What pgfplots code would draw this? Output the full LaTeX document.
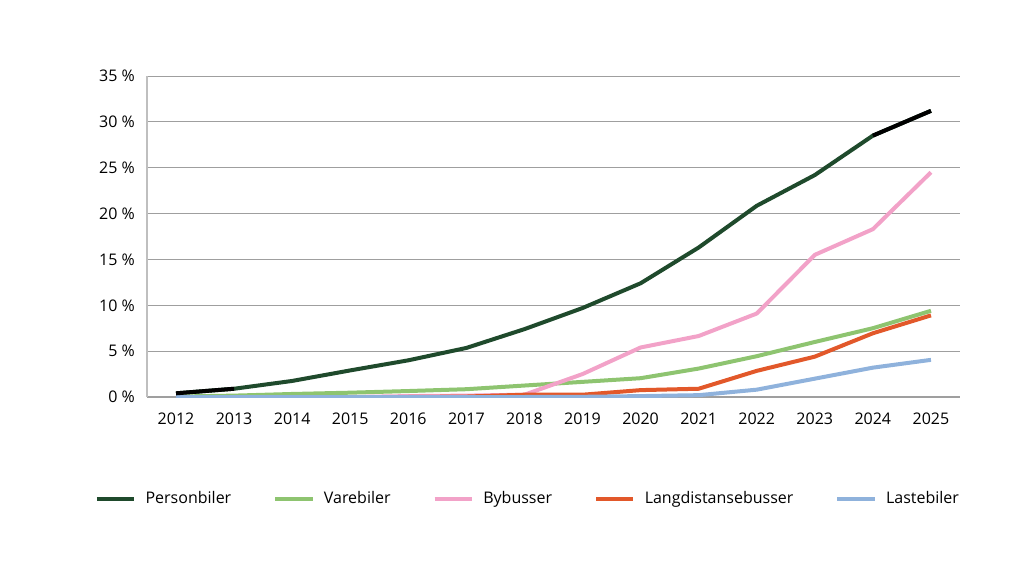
\documentclass[border=0pt]{standalone}
\usepackage{fontspec}
\setmainfont{Open Sans}
\usepackage{pgfplots}
\pgfplotsset{compat=1.18}

\definecolor{cPerson}{HTML}{1F4A2C}
\definecolor{cVare}{HTML}{8EC470}
\definecolor{cBy}{HTML}{F2A2C8}
\definecolor{cLang}{HTML}{E2582A}
\definecolor{cLast}{HTML}{8FB2DC}

\begin{document}
\fontsize{12}{14}\selectfont
\begin{tikzpicture}
% page frame: 1 px of the reference = 0.75pt
\path[use as bounding box] (-110.25pt,-127.5pt) rectangle (665.25pt,297.75pt);
\begin{axis}[
  scale only axis,
  width=609.75pt, height=240.75pt,
  xmin=2011.5, xmax=2025.5,
  ymin=0, ymax=35,
  xtick={2012,...,2025},
  ytick={0,5,...,35},
  axis x line=bottom, axis y line=left,
  axis line style={-, draw=gray!50, line width=0.8pt},
  x axis line style={draw=gray!75},
  major tick length=0pt,
  ymajorgrids,
  grid style={gray!75, line width=0.7pt},
  xticklabel style={/pgf/number format/1000 sep={}, yshift=-7.5pt},
  yticklabel={\pgfmathprintnumber{\tick}~\%},
  yticklabel style={xshift=-5pt},
  /pgf/number format/assume math mode=true,
  every tick label/.append style={font=\fontsize{12}{14}\selectfont},
  legend columns=5,
  legend style={draw=none, at={(rel axis cs:0.469,-0.318)}, anchor=center,
    font=\fontsize{12}{14}\selectfont,
    /tikz/every even column/.append style={column sep=29.5pt},
    /tikz/every odd column/.append style={column sep=5pt}},
  legend image code/.code={\draw[#1, line width=3pt] (0pt,0pt) -- (28pt,0pt);},
  every axis plot/.append style={line width=3pt, line join=round},
]
\addplot[cPerson] coordinates {
(2012,0.4) (2013,0.9) (2014,1.75) (2015,2.9) (2016,4.0) (2017,5.35) (2018,7.4)
(2019,9.7) (2020,12.4) (2021,16.3) (2022,20.85) (2023,24.2) (2024,28.5) (2025,31.2)};
\addlegendentry{Personbiler}
\addplot[cVare] coordinates {
(2012,0.05) (2013,0.15) (2014,0.33) (2015,0.47) (2016,0.65) (2017,0.85) (2018,1.25)
(2019,1.65) (2020,2.05) (2021,3.1) (2022,4.45) (2023,6.0) (2024,7.5) (2025,9.4)};
\addlegendentry{Varebiler}
\addplot[cBy] coordinates {
(2012,0) (2013,0) (2014,0) (2015,0) (2016,0.1) (2017,0.15) (2018,0.25)
(2019,2.5) (2020,5.4) (2021,6.65) (2022,9.1) (2023,15.5) (2024,18.3) (2025,24.5)};
\addlegendentry{Bybusser}
\addplot[cLang] coordinates {
(2012,0) (2013,0) (2014,0) (2015,0) (2016,0) (2017,0.05) (2018,0.25)
(2019,0.25) (2020,0.75) (2021,0.9) (2022,2.85) (2023,4.4) (2024,6.95) (2025,8.9)};
\addlegendentry{Langdistansebusser}
\addplot[cLast] coordinates {
(2012,0) (2013,0) (2014,0) (2015,0) (2016,0) (2017,0) (2018,0)
(2019,0.02) (2020,0.1) (2021,0.2) (2022,0.8) (2023,2.0) (2024,3.2) (2025,4.05)};
\addlegendentry{Lastebiler}
% first and last segments of Personbiler are drawn in black
\addplot[black, forget plot] coordinates {(2012,0.4) (2013,0.9)};
\addplot[black, forget plot] coordinates {(2024,28.5) (2025,31.2)};
\end{axis}
\end{tikzpicture}
\end{document}
